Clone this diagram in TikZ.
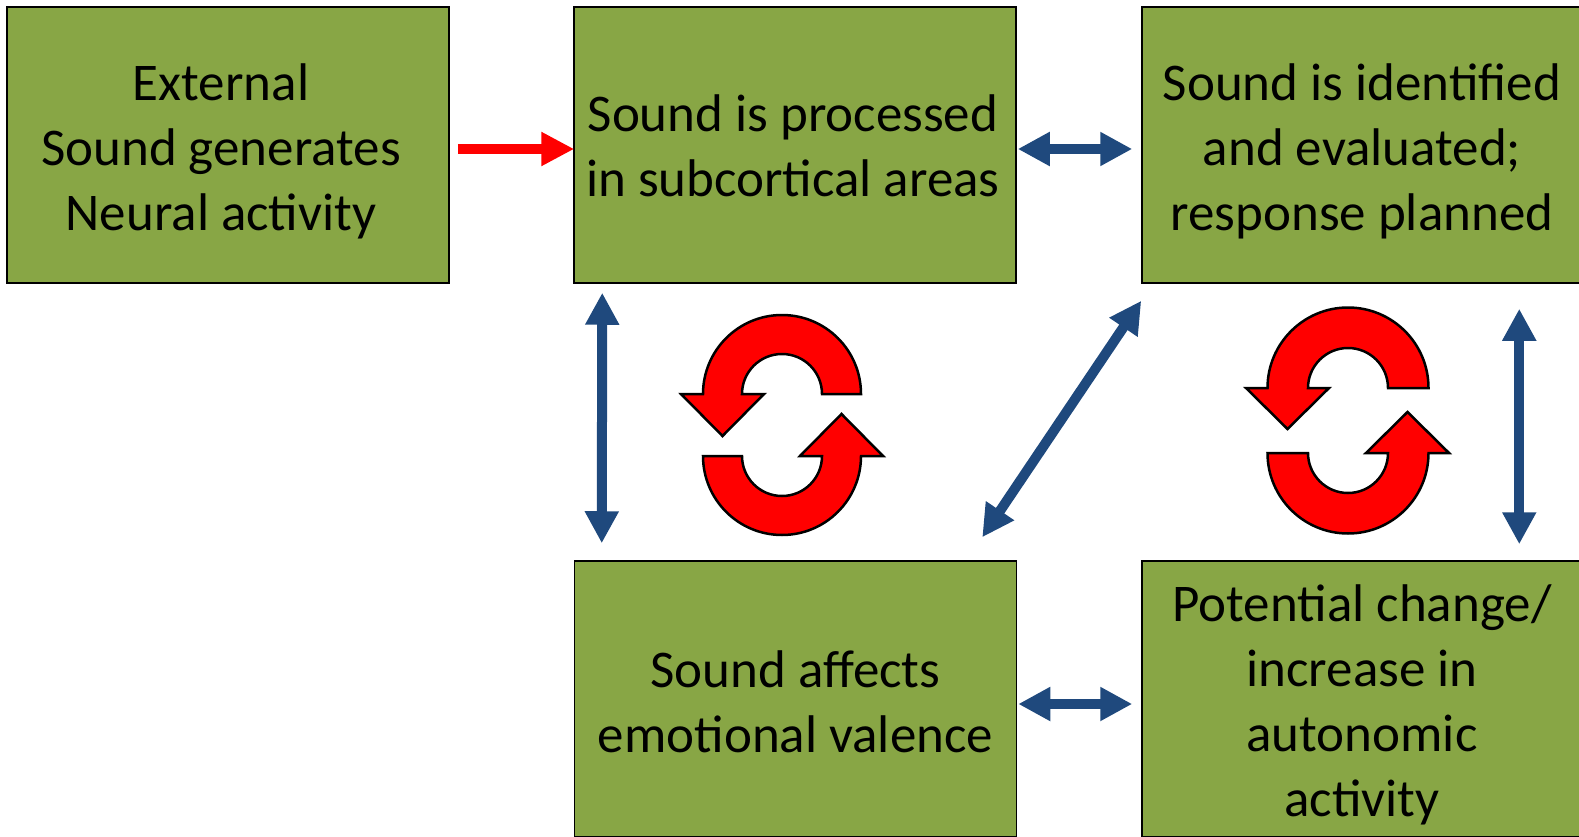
\documentclass[tikz,border=0pt]{standalone}
\usepackage{fontspec}
\setmainfont{Carlito}
\usetikzlibrary{arrows.meta,calc}
\definecolor{boxgreen}{HTML}{88A645}
\definecolor{arrowblue}{HTML}{1F497D}

\begin{document}
\begin{tikzpicture}[x=1pt,y=1pt,
  box/.style={draw=black, line width=1.5pt, fill=boxgreen,
    minimum width=442pt, minimum height=276pt, inner sep=0pt},
  boxtext/.style={inner sep=0pt, align=center,
    font=\fontsize{53}{65}\selectfont},
  link/.style={arrowblue, line width=10pt,
    {Triangle[length=32pt,width=32pt]}-{Triangle[length=32pt,width=32pt]}},
  feed/.style={red, line width=10pt, -{Triangle[length=33pt,width=32pt]}},
  loopshape/.style={fill=red, draw=black, line width=2.5pt, line join=miter}]

\useasboundingbox (0,0) rectangle (1579,-837);
\clip (0,0) rectangle (1579,-837);

% process boxes
\node[box] (ext)  at (228,-145)   {};
\node[box] (sub)  at (795,-145)   {};
\node[box] (eval) at (1363,-145)  {};
\node[box] (emo)  at (795.5,-699) {};
\node[box] (auto) at (1363,-699)  {};

% box captions
\node[boxtext] (extText)  at ($(ext.center)+(-7,-6)$)  {External\\Sound generates\\Neural activity};
\node[boxtext] (subText)  at ($(sub.center)+(-2,-1)$)  {Sound is processed\\in subcortical areas};
\node[boxtext] (evalText) at ($(eval.center)+(-1,-6)$) {Sound is identified\\and evaluated;\\response planned};
\node[boxtext] (emoText)  at ($(emo.center)+(0,-3)$)   {Sound affects\\emotional valence};
\node[boxtext] (autoText) at ($(auto.center)+(-1,-6)$) {Potential change/\\increase in\\autonomic\\activity};

% connectors
\draw[feed] ($(ext.east)+(8,-4)$) -- ($(sub.west)+(1,-4)$);
\draw[link] ($(sub.east)+(1,-4)$) -- ($(eval.west)+(-9,-4)$);
\draw[link] ($(emo.east)+(1,-5)$) -- ($(auto.west)+(-9,-5)$);
\draw[link] ($(sub.south west)+(29,-9)$) -- ($(emo.north west)+(28,17)$);
\draw[link] ($(eval.south west)+(378,-25)$) -- ($(auto.north west)+(378,16)$);
\draw[link] ($(eval.south west)+(0,-17)$) -- ($(emo.north east)+(-35,23)$);

% feedback cycle between subcortical processing and emotion
\draw[loopshape] (822,-394) -- (861,-394) arc[start angle=0,end angle=180,radius=79]
  -- (681,-394) -- (722.5,-436) -- (764,-394) -- (742,-394)
  arc[start angle=180,end angle=0,radius=40] -- cycle;
\draw[loopshape] (742,-456) -- (703,-456) arc[start angle=180,end angle=360,radius=79]
  -- (883,-456) -- (841.5,-414) -- (800,-456) -- (822,-456)
  arc[start angle=0,end angle=-180,radius=40] -- cycle;

% feedback cycle between evaluation and autonomic activity
\draw[loopshape] (1388,-388) -- (1428.5,-388) arc[start angle=0,end angle=180,radius=80.5]
  -- (1246,-388) -- (1287.5,-429) -- (1329,-388) -- (1308,-388)
  arc[start angle=180,end angle=0,radius=40] -- cycle;
\draw[loopshape] (1308,-453) -- (1267.5,-453) arc[start angle=180,end angle=360,radius=80.5]
  -- (1449,-453) -- (1407.5,-412) -- (1366,-453) -- (1388,-453)
  arc[start angle=0,end angle=-180,radius=40] -- cycle;
\end{tikzpicture}
\end{document}
